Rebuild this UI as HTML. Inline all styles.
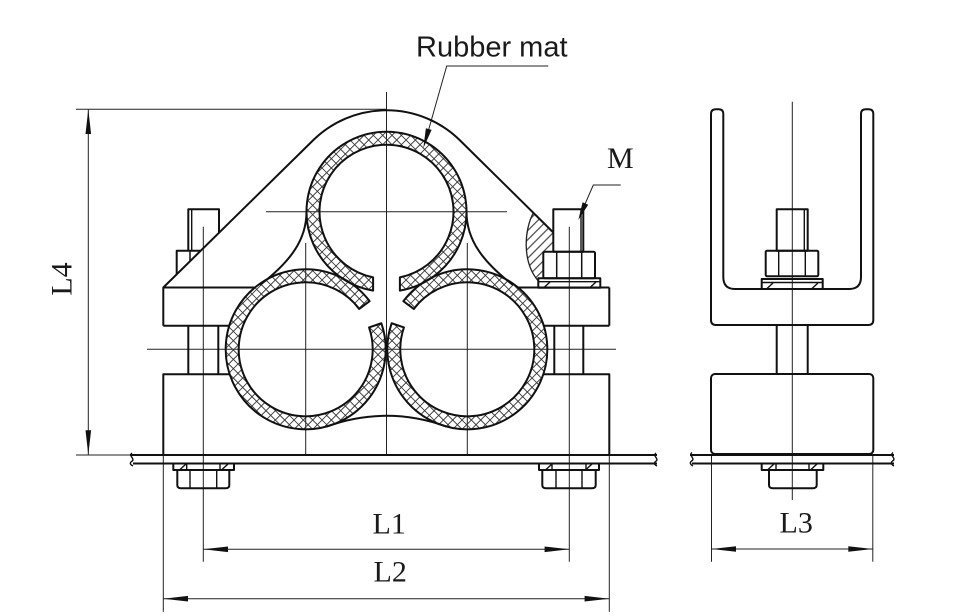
<!DOCTYPE html>
<html><head><meta charset="utf-8"><style>
html,body{margin:0;padding:0;background:#fff;}
svg{display:block;}
</style></head><body>
<svg width="954" height="616" viewBox="0 0 954 616" xmlns="http://www.w3.org/2000/svg">
<defs>
<pattern id="xh" width="6.6" height="6.6" patternUnits="userSpaceOnUse" patternTransform="rotate(45)">
<line x1="3.3" y1="0" x2="3.3" y2="6.6" stroke="#333" stroke-width="0.9"/>
<line x1="0" y1="3.3" x2="6.6" y2="3.3" stroke="#333" stroke-width="0.9"/>
</pattern>
<pattern id="sh" width="6.5" height="6.5" patternUnits="userSpaceOnUse" patternTransform="rotate(45)">
<line x1="3.2" y1="0" x2="3.2" y2="6.5" stroke="#333" stroke-width="1.1"/>
</pattern>
</defs>
<rect width="954" height="616" fill="#fff"/>

<!-- ===== thin lines: centre lines, dimension, extension ===== -->
<g stroke="#222" stroke-width="1" fill="none">
<!-- main vertical centre -->
<line x1="386.5" y1="92" x2="386.5" y2="455"/>
<!-- top circle horizontal centre -->
<line x1="266" y1="211.7" x2="507" y2="211.7"/>
<!-- bottom circles horizontal centre -->
<line x1="147" y1="349.3" x2="616" y2="349.3"/>
<!-- bottom circle verticals -->
<line x1="305.7" y1="243" x2="305.7" y2="455"/>
<line x1="467.3" y1="243" x2="467.3" y2="455"/>
<!-- bolt centrelines / L1 extensions -->
<line x1="203.3" y1="226.7" x2="203.3" y2="561.7"/>
<line x1="569.3" y1="226.7" x2="569.3" y2="561.7"/>
<!-- L2 extensions -->
<line x1="163.3" y1="455" x2="163.3" y2="611.7"/>
<line x1="609.3" y1="455" x2="609.3" y2="611.7"/>
<!-- L4 extensions & dim line -->
<line x1="76" y1="109.3" x2="386.5" y2="109.3"/>
<line x1="76" y1="455" x2="131" y2="455"/>
<line x1="88.3" y1="109.3" x2="88.3" y2="455"/>
<!-- L1 / L2 dim lines -->
<line x1="203.3" y1="549.3" x2="569.3" y2="549.3"/>
<line x1="163.3" y1="598.7" x2="609.3" y2="598.7"/>
<!-- side view centre & L3 -->
<line x1="792.3" y1="101.7" x2="792.3" y2="500"/>
<line x1="711.5" y1="455" x2="711.5" y2="561.7"/>
<line x1="872.8" y1="455" x2="872.8" y2="561.7"/>
<line x1="711.5" y1="549" x2="872.8" y2="549"/>
<!-- leaders -->
<polyline points="548.3,66 446.7,66 426,139"/>
<polyline points="620.7,185 593.3,185 582,211"/>
</g>

<!-- arrowheads -->
<g fill="#111" stroke="none">
<polygon points="203.3,549.3 228,546.5 228,552.1"/>
<polygon points="569.3,549.3 544.6,546.5 544.6,552.1"/>
<polygon points="163.3,598.7 188,595.9 188,601.5"/>
<polygon points="609.3,598.7 584.6,595.9 584.6,601.5"/>
<polygon points="711.5,549 736,546.2 736,551.8"/>
<polygon points="872.8,549 848.3,546.2 848.3,551.8"/>
<polygon points="88.3,109.3 85.5,134 91.1,134"/>
<polygon points="88.3,455 85.5,430.3 91.1,430.3"/>
<polygon points="423.3,148.3 431.6,129.9 425.9,128.3"/>
<polygon points="578.3,220 588.2,204.7 582.6,202.3"/>
</g>

<!-- ===== rubber rings ===== -->
<g stroke="#111" stroke-width="2" fill="url(#xh)" stroke-linejoin="round">
<path d="M373.1,290.6 A80,80 0 1,1 399.9,290.6 L399.9,277.35 A67,67 0 1,0 373.1,277.35 Z"/>
<path d="M381.34,323.25 A80,80 0 1,1 369.59,301.16 L359.21,308.98 A67,67 0 1,0 369.05,327.48 Z"/>
<path d="M391.66,323.25 A80,80 0 1,0 403.41,301.16 L413.79,308.98 A67,67 0 1,1 403.95,327.48 Z"/>
</g>

<!-- hatched broken-out section -->
<path d="M533.5,212.6 C524,230 522,262 538.3,281 L543.3,278.3 L543.3,251.7 L553.3,251.7 L553.3,232.5 Z" fill="url(#sh)" stroke="none"/>
<path d="M533.5,212.6 C524,230 522,262 538.3,281" fill="none" stroke="#222" stroke-width="1.3"/>

<!-- ===== main outlines ===== -->
<g stroke="#111" stroke-width="2" fill="none" stroke-linejoin="round">
<!-- upper clamp outline -->
<path d="M163.3,325.7 L163.3,287.5 L313.4,140 A104.7,104.7 0 0,1 459.6,140 L553.3,232.5"/>
<!-- flanges -->
<line x1="163.3" y1="287.5" x2="254.9" y2="287.5"/>
<line x1="163.3" y1="325.7" x2="229.3" y2="325.7"/>
<line x1="518.1" y1="287.5" x2="609.3" y2="287.5"/>
<line x1="609.3" y1="287.5" x2="609.3" y2="325.7"/>
<line x1="543.7" y1="325.7" x2="609.3" y2="325.7"/>
<!-- inner fillets -->
<path d="M306.5,211.7 C306.5,240 290,262 260,285"/>
<path d="M466.5,211.7 C466.5,240 483,262 513,285"/>
<!-- lower block -->
<polyline points="229.6,374.3 163.3,374.3 163.3,455"/>
<polyline points="543.4,374.3 609.3,374.3 609.3,455"/>
<path d="M326.4,426.6 Q386.5,405 446.6,426.6"/>
<!-- shafts -->
<line x1="188.3" y1="325.7" x2="188.3" y2="374.3"/>
<line x1="218.3" y1="325.7" x2="218.3" y2="374.3"/>
<line x1="554.3" y1="325.7" x2="554.3" y2="374.3"/>
<line x1="583.3" y1="325.7" x2="583.3" y2="374.3"/>
<!-- left upper bolt -->
<polyline points="188.3,250.7 188.3,209.3 219,209.3 219,232.8"/>
<polyline points="176.7,274.3 176.7,250.7 200.5,250.7"/>
<line x1="190" y1="250.7" x2="190" y2="261.5" stroke-width="1.5"/>
<!-- right upper bolt -->
<rect x="553.3" y="209.3" width="30" height="42.4"/>
<rect x="543.3" y="251.7" width="51.7" height="26.6" rx="1.5"/>
<line x1="556.7" y1="251.7" x2="556.7" y2="278.3" stroke-width="1.5"/>
<line x1="581.7" y1="251.7" x2="581.7" y2="278.3" stroke-width="1.5"/>
<rect x="538.3" y="278.3" width="62" height="9.5"/>
<!-- base plate -->
<line x1="130" y1="455" x2="657" y2="455"/>
<line x1="133" y1="463.5" x2="657" y2="463.5"/>
<!-- bottom nuts main -->
<rect x="173.3" y="463.5" width="60.7" height="6.5"/>
<path d="M177.3,470 L177.3,485 Q177.3,488.3 181,488.3 L225.6,488.3 Q229.3,488.3 229.3,485 L229.3,470"/>
<rect x="539" y="463.5" width="60" height="6.5"/>
<path d="M542.3,470 L542.3,485 Q542.3,488.3 546,488.3 L592,488.3 Q595.7,488.3 595.7,485 L595.7,470"/>
</g>
<g stroke="#111" stroke-width="1.4" fill="none">
<line x1="190" y1="470" x2="190" y2="488"/>
<line x1="216.7" y1="470" x2="216.7" y2="488"/>
<line x1="556" y1="470" x2="556" y2="488"/>
<line x1="582" y1="470" x2="582" y2="488"/>
<line x1="191.7" y1="209.3" x2="191.7" y2="250.7"/>
<line x1="581" y1="209.3" x2="581" y2="251.7"/>
<line x1="538.3" y1="281.7" x2="600.3" y2="281.7"/>
<!-- washer ticks -->
<line x1="180" y1="469.5" x2="186" y2="464"/>
<line x1="222" y1="469.5" x2="228" y2="464"/>
<line x1="546" y1="469.5" x2="552" y2="464"/>
<line x1="586" y1="469.5" x2="592" y2="464"/>
<line x1="186.7" y1="463.5" x2="186.7" y2="470"/>
<line x1="220" y1="463.5" x2="220" y2="470"/>
<line x1="552" y1="463.5" x2="552" y2="470"/>
<line x1="586" y1="463.5" x2="586" y2="470"/>
<line x1="544" y1="287.5" x2="550" y2="282"/>
<line x1="590" y1="287.5" x2="596" y2="282"/>
<!-- break marks -->
<path d="M132,453 C128,456 136,459 131.5,461.5 C129,463.5 131,465 133,466"/>
<path d="M656,453 C652,456 660,459 655.5,461.5 C653,463.5 655,465 657,466"/>
<path d="M692,452.5 C688,455.5 696,458.5 691.5,461 C689,463 691,465 693,466"/>
<path d="M893,452.5 C889,455.5 897,458.5 892.5,461 C890,463 892,465 894,466"/>
</g>

<!-- ===== side view ===== -->
<g stroke="#111" stroke-width="2" fill="none" stroke-linejoin="round">
<path d="M711,114 Q711,109.3 716,109.3 L718.5,109.3 Q723.3,109.3 723.3,114 L723.3,277 Q723.3,289 735,289 L849,289 Q861,289 861,277 L861,114 Q861,109.3 866,109.3 L868.5,109.3 Q873.3,109.3 873.3,114 L873.3,320 Q873.3,325 868.3,325 L716,325 Q711,325 711,320 Z"/>
<rect x="776.7" y="209.3" width="31" height="41.4"/>
<rect x="765.7" y="250.7" width="52.6" height="25.6" rx="1.5"/>
<rect x="761.7" y="279" width="61" height="10"/>
<line x1="776.7" y1="325" x2="776.7" y2="374"/>
<line x1="807.7" y1="325" x2="807.7" y2="374"/>
<rect x="711" y="374" width="162.3" height="80" rx="4"/>
<line x1="690" y1="455" x2="894" y2="455"/>
<line x1="692" y1="463.5" x2="894" y2="463.5"/>
<rect x="761.7" y="463.5" width="61.6" height="6.5"/>
<path d="M769,470 L769,485 Q769,488.3 773,488.3 L812.7,488.3 Q816.7,488.3 816.7,485 L816.7,470"/>
</g>
<g stroke="#111" stroke-width="1.4" fill="none">
<line x1="804.3" y1="209.3" x2="804.3" y2="250.7"/>
<line x1="778.7" y1="250.7" x2="778.7" y2="276.3"/>
<line x1="805.3" y1="250.7" x2="805.3" y2="276.3"/>
<line x1="761.7" y1="282.5" x2="822.7" y2="282.5"/>
<line x1="767" y1="288.5" x2="773" y2="283"/>
<line x1="812" y1="288.5" x2="818" y2="283"/>
<line x1="768" y1="469.5" x2="774" y2="464"/>
<line x1="811" y1="469.5" x2="817" y2="464"/>
<line x1="776" y1="463.5" x2="776" y2="470"/>
<line x1="809" y1="463.5" x2="809" y2="470"/>
</g>

<!-- ===== labels ===== -->
<g fill="#1a1a1a">
<text x="416" y="56.5" font-family="'Liberation Sans', Arial, sans-serif" font-size="29">Rubber mat</text>
<text x="607" y="168" font-family="'Liberation Serif', 'Times New Roman', serif" font-size="30">M</text>
<text x="372.5" y="533.3" font-family="'Liberation Serif', 'Times New Roman', serif" font-size="30">L1</text>
<text x="373.5" y="581.7" font-family="'Liberation Serif', 'Times New Roman', serif" font-size="30">L2</text>
<text x="779.5" y="532.7" font-family="'Liberation Serif', 'Times New Roman', serif" font-size="30">L3</text>
<text transform="translate(71.7,279) rotate(-90)" text-anchor="middle" font-family="'Liberation Serif', 'Times New Roman', serif" font-size="30">L4</text>
</g>
</svg>
</body></html>
